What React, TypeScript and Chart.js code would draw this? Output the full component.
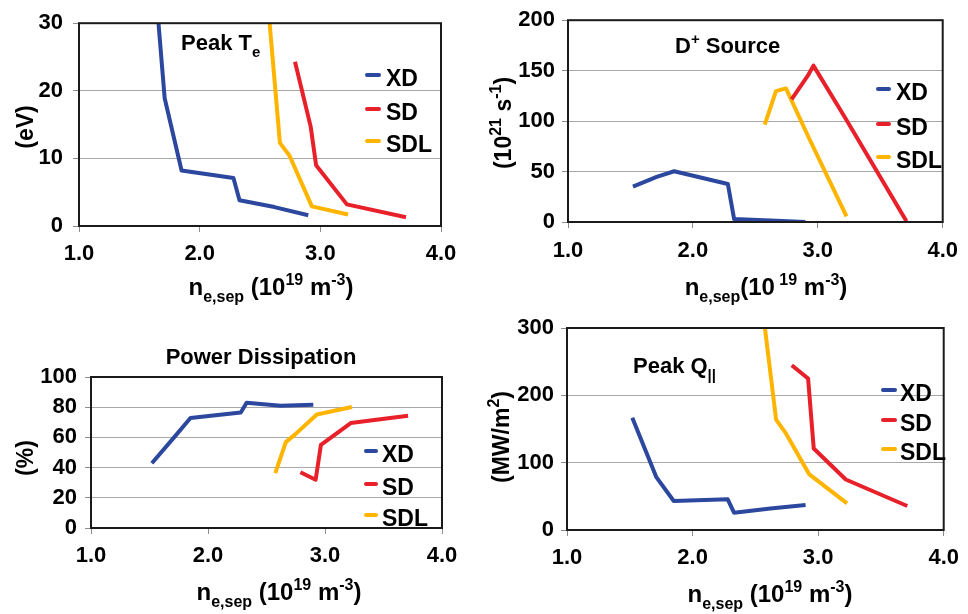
import React, { useEffect, useRef } from 'react';
import { Chart, registerables } from 'chart.js';

Chart.register(...registerables);

// ---------------- data ----------------
const SERIES = ['XD', 'SD', 'SDL'];
const COLORS = ['#2c479e', '#e8202a', '#ffb400'];

// separatrix density (1e19 m^-3) for each series
const XD_NE = [1.52, 1.71, 1.85, 2.28, 2.33, 2.62, 2.9];
const SD_NE = [2.79, 2.92, 2.965, 3.22, 3.71];
const SDL_NE = [2.575, 2.665, 2.745, 2.93, 3.23];

// Peak Te (eV)
const TE_XD = [60, 18.9, 8.2, 7.1, 3.8, 2.8, 1.6];
const TE_SD = [24.3, 14.7, 9.0, 3.2, 1.3];
const TE_SDL = [31, 12.3, 10.4, 2.9, 1.7];

// D+ source (1e21 s^-1)
const DS_XD = [35, 44.8, 50.3, 37.6, 2.9, 1.6, 0];
const DS_SD = [121.6, 145, 155, 103, 0.7];
const DS_SDL = [96.4, 129.7, 132.4, 83, 5.6];

// Power dissipation (%)
const PD_XD = [42.9, 60, 72.8, 76.5, 83, 81, 81.6];
const PD_SD = [36.9, 32, 55, 69.5, 74.3];
const PD_SDL = [36.3, 56.9, 62, 75.2, 80.1];

// Peak Q|| (MW/m^2)
const Q_XD = [166.6, 79, 43, 45.5, 25.7, 32, 37];
const Q_SD = [244.7, 225, 121, 75, 35.6];
const Q_SDL = [302, 164, 143, 82.5, 39.5];

// tick labels
const X_TICKS = [1.0, 2.0, 3.0, 4.0];
const TE_TICKS = [0, 10, 20, 30];
const DS_TICKS = [0, 50, 100, 150, 200];
const PD_TICKS = [0, 20, 40, 60, 80, 100];
const Q_TICKS = [0, 100, 200, 300];

const NE = [XD_NE, SD_NE, SDL_NE];

// ---------------- layout ----------------
const W = 968;
const H = 614;
const Y_W = 60;
const X_H = 60;
const FAMILY = '"Liberation Sans", Arial, Helvetica, sans-serif';

type Seg = { t: string; k?: 'sub' | 'sup' };

const X_TITLE: Seg[] = [
  { t: 'n' }, { t: 'e,sep', k: 'sub' }, { t: ' (10' }, { t: '19', k: 'sup' }, { t: ' m' }, { t: '-3', k: 'sup' }, { t: ')' },
];
const X_TITLE2: Seg[] = [
  { t: 'n' }, { t: 'e,sep', k: 'sub' }, { t: '(10' }, { t: ' 19', k: 'sup' }, { t: ' m' }, { t: '-3', k: 'sup' }, { t: ')' },
];

interface Panel {
  area: { l: number; t: number; r: number; b: number };
  yTicks: number[];
  values: number[][];
  yPad: number;
  xPad: number;
  title: { segs: Seg[]; x: number; y: number; align: 'left' | 'center' };
  xTitle: { segs: Seg[]; cx: number; y: number };
  yTitle: { segs: Seg[]; cx: number; cy: number };
  legend: { x1: number; x2: number; tx: number; ys: number[] };
}

const PANELS: Panel[] = [
  {
    area: { l: 79, t: 17, r: 441, b: 226 },
    yTicks: TE_TICKS,
    values: [TE_XD, TE_SD, TE_SDL],
    yPad: 10,
    xPad: 9,
    title: { segs: [{ t: 'Peak T' }, { t: 'e', k: 'sub' }], x: 181, y: 50, align: 'left' },
    xTitle: { segs: X_TITLE, cx: 271, y: 295 },
    yTitle: { segs: [{ t: '(eV)' }], cx: 25, cy: 127 },
    legend: { x1: 365, x2: 381, tx: 386, ys: [75, 109, 141] },
  },
  {
    area: { l: 568, t: 18, r: 950, b: 222 },
    yTicks: DS_TICKS,
    values: [DS_XD, DS_SD, DS_SDL],
    yPad: 7,
    xPad: 10,
    title: { segs: [{ t: 'D' }, { t: '+', k: 'sup' }, { t: ' Source' }], x: 675, y: 53, align: 'left' },
    xTitle: { segs: X_TITLE2, cx: 766, y: 295 },
    yTitle: {
      segs: [{ t: '(10' }, { t: '21', k: 'sup' }, { t: ' s' }, { t: '-1', k: 'sup' }, { t: ')' }],
      cx: 503,
      cy: 123,
    },
    legend: { x1: 876, x2: 891, tx: 896, ys: [89, 124, 157] },
  },
  {
    area: { l: 91, t: 377, r: 442, b: 528 },
    yTicks: PD_TICKS,
    values: [PD_XD, PD_SD, PD_SDL],
    yPad: 8,
    xPad: 9,
    title: { segs: [{ t: 'Power Dissipation' }], x: 261, y: 364, align: 'center' },
    xTitle: { segs: X_TITLE, cx: 279, y: 600 },
    yTitle: { segs: [{ t: '(%)' }], cx: 25, cy: 458 },
    legend: { x1: 364, x2: 378, tx: 382, ys: [451, 484, 515] },
  },
  {
    area: { l: 567, t: 328, r: 950, b: 530 },
    yTicks: Q_TICKS,
    values: [Q_XD, Q_SD, Q_SDL],
    yPad: 7,
    xPad: 9,
    title: { segs: [{ t: 'Peak Q' }, { t: '||', k: 'sub' }], x: 633, y: 373, align: 'left' },
    xTitle: { segs: X_TITLE, cx: 770, y: 602 },
    yTitle: { segs: [{ t: '(MW/m' }, { t: '2', k: 'sup' }, { t: ')' }], cx: 501, cy: 437 },
    legend: { x1: 881, x2: 897, tx: 900, ys: [390, 420, 449] },
  },
];

function font(size: number) {
  return `bold ${size}px ${FAMILY}`;
}

function drawRich(
  ctx: CanvasRenderingContext2D,
  segs: Seg[],
  x: number,
  y: number,
  align: 'left' | 'center',
  main: number,
  small: number
) {
  let total = 0;
  const widths = segs.map((s) => {
    ctx.font = font(s.k ? small : main);
    const w = ctx.measureText(s.t).width;
    total += w;
    return w;
  });
  let cx = align === 'center' ? x - total / 2 : x;
  ctx.textAlign = 'left';
  ctx.textBaseline = 'alphabetic';
  ctx.fillStyle = '#000';
  segs.forEach((s, i) => {
    ctx.font = font(s.k ? small : main);
    const dy = s.k === 'sub' ? main * 0.3 : s.k === 'sup' ? -main * 0.42 : 0;
    ctx.fillText(s.t, cx, y + dy);
    cx += widths[i];
  });
}

function makeDecor(p: Panel) {
  return {
    id: 'decor',
    afterDraw(chart: any) {
      const ctx: CanvasRenderingContext2D = chart.ctx;
      const a = chart.chartArea;
      ctx.save();
      // plot frame
      ctx.strokeStyle = '#1a1a1a';
      ctx.lineWidth = 2;
      ctx.strokeRect(a.left, a.top, a.right - a.left, a.bottom - a.top);
      // titles
      drawRich(ctx, p.title.segs, p.title.x, p.title.y, p.title.align, 22, 15);
      drawRich(ctx, p.xTitle.segs, p.xTitle.cx, p.xTitle.y, 'center', 24, 16);
      ctx.save();
      ctx.translate(p.yTitle.cx, p.yTitle.cy);
      ctx.rotate(-Math.PI / 2);
      drawRich(ctx, p.yTitle.segs, 0, 8, 'center', 23, 16);
      ctx.restore();
      // legend
      chart.data.datasets.forEach((ds: any, i: number) => {
        const y = p.legend.ys[i];
        ctx.strokeStyle = ds.borderColor;
        ctx.lineWidth = 4;
        ctx.lineCap = 'round';
        ctx.beginPath();
        ctx.moveTo(p.legend.x1 + 2, y);
        ctx.lineTo(p.legend.x2 - 2, y);
        ctx.stroke();
        ctx.fillStyle = '#000';
        ctx.font = font(23);
        ctx.textAlign = 'left';
        ctx.textBaseline = 'alphabetic';
        ctx.fillText(ds.label, p.legend.tx, y + 11);
      });
      ctx.restore();
    },
  };
}

function PanelChart({ p }: { p: Panel }) {
  const ref = useRef<HTMLCanvasElement | null>(null);
  useEffect(() => {
    if (!ref.current) return;
    const yMin = p.yTicks[0];
    const yMax = p.yTicks[p.yTicks.length - 1];
    const chart = new Chart(ref.current, {
      type: 'line',
      data: {
        datasets: SERIES.map((name, i) => ({
          label: name,
          data: NE[i].map((x, j) => ({ x, y: p.values[i][j] })),
          borderColor: COLORS[i],
          backgroundColor: COLORS[i],
          borderWidth: 4,
          pointRadius: 0,
          tension: 0,
          fill: false,
          borderJoinStyle: 'round',
          borderCapStyle: 'butt',
        })),
      },
      options: {
        responsive: false,
        animation: false,
        events: [],
        layout: {
          padding: {
            left: p.area.l - Y_W,
            top: p.area.t,
            right: W - p.area.r,
            bottom: H - p.area.b - X_H,
          },
        },
        plugins: {
          legend: { display: false },
          tooltip: { enabled: false },
          title: { display: false },
        },
        scales: {
          x: {
            type: 'linear',
            min: X_TICKS[0],
            max: X_TICKS[X_TICKS.length - 1],
            afterBuildTicks: (s: any) => {
              s.ticks = X_TICKS.map((v) => ({ value: v }));
            },
            afterFit: (s: any) => {
              s.height = X_H;
            },
            ticks: {
              autoSkip: false,
              maxRotation: 0,
              minRotation: 0,
              padding: p.xPad,
              color: '#000',
              font: { family: FAMILY, size: 22, weight: 'bold' },
              callback: (v: any) => Number(v).toFixed(1),
            },
            grid: { drawOnChartArea: false, drawTicks: true, tickLength: 6, color: '#8c8c8c', lineWidth: 1 },
            border: { display: false },
          },
          y: {
            type: 'linear',
            min: yMin,
            max: yMax,
            afterBuildTicks: (s: any) => {
              s.ticks = p.yTicks.map((v) => ({ value: v }));
            },
            afterFit: (s: any) => {
              s.width = Y_W;
            },
            ticks: {
              autoSkip: false,
              padding: p.yPad,
              color: '#000',
              font: { family: FAMILY, size: 22, weight: 'bold' },
              callback: (v: any) => String(v),
            },
            grid: { color: '#a8a8a8', lineWidth: 1, tickLength: 6, tickColor: '#8c8c8c' },
            border: { display: false },
          },
        },
      } as any,
      plugins: [makeDecor(p)],
    });
    return () => chart.destroy();
  }, [p]);
  return (
    <canvas
      ref={ref}
      width={W}
      height={H}
      style={{ position: 'absolute', left: 0, top: 0, width: W, height: H }}
    />
  );
}

export default function App() {
  useEffect(() => {
    document.body.style.margin = '0';
    document.body.style.background = '#fff';
  }, []);
  return (
    <div style={{ position: 'relative', width: W, height: H, background: '#fff', overflow: 'hidden' }}>
      {PANELS.map((p, i) => (
        <PanelChart key={i} p={p} />
      ))}
    </div>
  );
}
